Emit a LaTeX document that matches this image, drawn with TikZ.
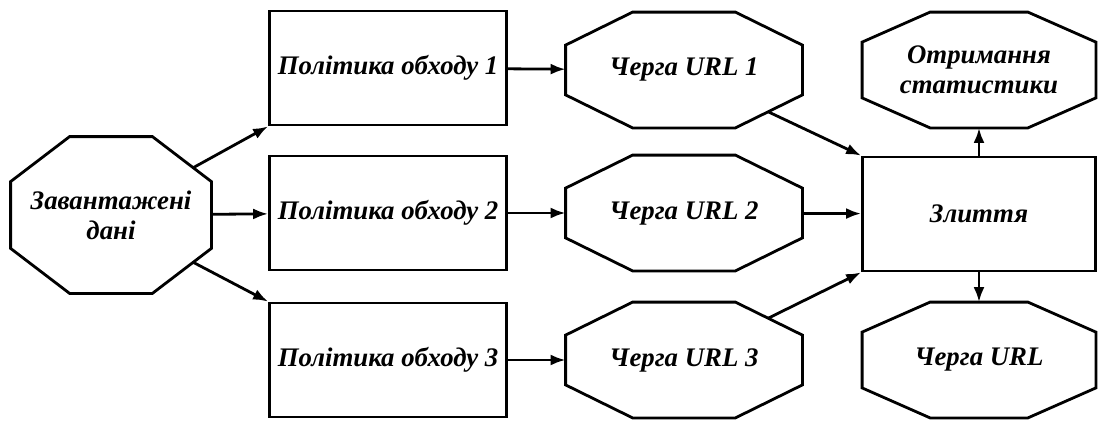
\documentclass[tikz,border=0pt]{standalone}
\usepackage{fontspec}
\setmainfont{Liberation Serif}
\usetikzlibrary{arrows.meta, positioning, calc}

\begin{document}
\begin{tikzpicture}[
    x=0.5pt, y=-0.5pt,
    every node/.style={font=\fontsize{13.4}{15}\selectfont\bfseries\itshape},
    box/.style={rectangle, draw, line width=1.4pt, minimum width=118.5pt, minimum height=57pt, align=center, inner sep=0pt},
    oct/.style={rectangle, minimum width=118pt, minimum height=57.5pt, align=center, inner sep=0pt},
    octline/.style={line width=1.4pt, line join=miter},
    arrow/.style={-{Latex[length=7.5pt, width=5.5pt]}, line width=1.4pt}
]
\useasboundingbox (0,0) rectangle (1098,423);

% Input
\node[oct, minimum width=100pt, minimum height=78pt] (load) at (111, 215) {Завантажені\\дані};

% Crawl policies
\node[box] (pol1) at (388, 68) {Політика обходу 1};
\node[box] (pol2) at (388, 213) {Політика обходу 2};
\node[box] (pol3) at (388, 360) {Політика обходу 3};

% URL queues
\node[oct] (queue1) at (684, 70) {Черга URL 1};
\node[oct] (queue2) at (684, 213) {Черга URL 2};
\node[oct] (queue3) at (684, 360) {Черга URL 3};

% Merge and outputs
\node[box, minimum width=116.5pt] (merge) at (979, 214) {Злиття};
\node[oct, minimum width=116.5pt] (stats) at (979, 70) {Отримання\\статистики};
\node[oct, minimum width=116.5pt] (queue) at (979, 360) {Черга URL};

% Octagon outlines (node / chamfer x / chamfer y)
\foreach \n/\ox/\oy in {load/29.5/22.5, queue1/33.5/16.5, queue2/33.5/16.5, queue3/33.5/16.5, stats/34/15, queue/34/15}
    \draw[octline] ($(\n.north west)+(\ox pt,0pt)$) -- ($(\n.north east)+(-\ox pt,0pt)$)
        -- ($(\n.north east)+(0pt,-\oy pt)$) -- ($(\n.south east)+(0pt,\oy pt)$)
        -- ($(\n.south east)+(-\ox pt,0pt)$) -- ($(\n.south west)+(\ox pt,0pt)$)
        -- ($(\n.south west)+(0pt,\oy pt)$) -- ($(\n.north west)+(0pt,-\oy pt)$) -- cycle;

% Arrows
\draw[arrow] ($(load.north east)+(-9pt,-15.5pt)$) -- (pol1.south west);
\draw[arrow] (load) -- (pol2);
\draw[arrow] ($(load.south east)+(-9pt,15.5pt)$) -- (pol3.north west);
\foreach \i in {1,2,3}
    \draw[arrow] (pol\i) -- (queue\i);
\draw[arrow] ($(queue1.south east)+(-17pt,8pt)$) -- (merge.north west);
\draw[arrow] (queue2) -- (merge);
\draw[arrow] ($(queue3.north east)+(-17pt,-8pt)$) -- (merge.south west);
\draw[arrow] (merge) -- (stats);
\draw[arrow] (merge) -- (queue);

\end{tikzpicture}
\end{document}
